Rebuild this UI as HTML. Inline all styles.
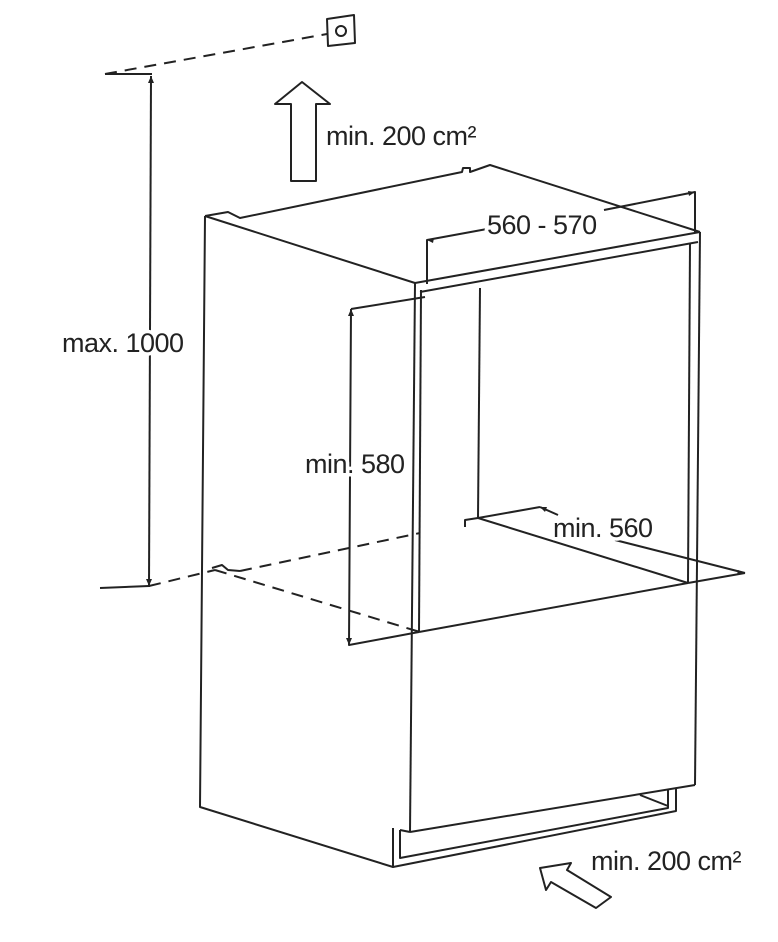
<!DOCTYPE html>
<html><head><meta charset="utf-8"><style>
html,body{margin:0;padding:0;background:#fff;}
svg{display:block;}
text{font-family:"Liberation Sans",sans-serif;font-size:27px;fill:#222;stroke:#fff;stroke-width:7px;paint-order:stroke;stroke-linejoin:round;letter-spacing:-0.5px;}
</style></head><body>
<svg width="778" height="942" viewBox="0 0 778 942" xmlns="http://www.w3.org/2000/svg">
<g fill="none" stroke="#222" stroke-width="2" stroke-linejoin="round">
<path d="M327,19 L354,15 L355,43 L328,46 Z"/>
<circle cx="341" cy="31" r="5"/>
<path d="M105,74 L327,34" stroke-dasharray="12,8"/>
<path d="M105,74 L152,74"/>
<path d="M151,76 L149,587"/>
<path d="M100,588 L149,586"/>
<path d="M149,586 L215,570" stroke-dasharray="12,8"/>
<path d="M212,568 L222,565 L228,570 L240,571"/>
<path d="M240,571 L420,533" stroke-dasharray="12,8"/>
<path d="M215,570 L420,632" stroke-dasharray="12,8"/>
<path d="M291,181 L291,104 L275,104 L302,82 L330,104 L316,104 L316,181 Z"/>
<path d="M205,216 L228,212 L240,218 L462,172 L463,168 L470,168 L470,172 L490,165 L700,232"/>
<path d="M205,216 L415,283 L700,232"/>
<path d="M420,292 L698,242"/>
<path d="M205,216 L200,807 L393,867"/>
<path d="M415,283 L410,832"/>
<path d="M421,290 L419,632"/>
<path d="M700,232 L695,785"/>
<path d="M690,243 L688,583"/>
<path d="M480,288 L478,518"/>
<path d="M410,832 L695,785"/>
<path d="M393,828 L393,867 L676,811 L676,788"/>
<path d="M400,830 L400,858 L668,808 L668,790"/>
<path d="M400,830 L410,832"/>
<path d="M640,795 L668,806"/>
<path d="M419,632 L688,583"/>
<path d="M465,527 L465,520 L478,518 L540,507"/>
<path d="M478,518 L688,583"/>
<path d="M540,507 L558,515"/>
<path d="M615,540 L745,573"/>
<path d="M688,583 L745,573"/>
<path d="M351,309 L349,645 L419,632"/>
<path d="M351,309 L425,297"/>
<path d="M427,284 L427,240 L487,229"/>
<path d="M604,210 L695,192 L695,232"/>
<path d="M540,868 L546,890 L551,882 L596,908 L611,897 L567,870 L571,863 Z"/>
</g>
<g fill="#222">
<path d="M151,76 l-3,7 l6,0 Z"/>
<path d="M149,586 l-3,-7 l6,0 Z"/>
<path d="M351,309 l-3,7 l6,0 Z"/>
<path d="M349,645 l-3,-7 l6,0 Z"/>
<path d="M427,240 l7,-2 l-1,5 Z"/>
<path d="M695,192 l-7,-1 l1,5 Z"/>
<path d="M540,507 l7,0 l-2,5 Z"/>
<path d="M745,573 l-7,-3 l-1,5 Z"/>
</g>
<text x="326" y="145">min. 200 cm²</text>
<text x="487" y="234">560 - 570</text>
<text x="62" y="352">max. 1000</text>
<text x="305" y="473">min. 580</text>
<text x="553" y="537">min. 560</text>
<text x="591" y="870">min. 200 cm²</text>
</svg>
</body></html>
